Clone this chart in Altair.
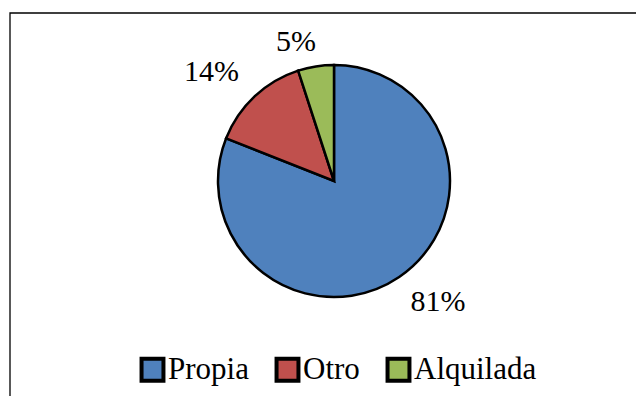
import altair as alt
import pandas as pd

categories = ["Propia", "Otro", "Alquilada"]
values = [81, 14, 5]
labels = ["81%", "14%", "5%"]
colors = ["#4F81BD", "#C0504D", "#9BBB59"]
order_idx = [0, 1, 2]

df = pd.DataFrame({"cat": categories, "val": values, "label": labels, "idx": order_idx})

W, H = 628, 388
CX, CY = 326, 173
R = 116
theta_scale = alt.Scale(domain=[0, 100], range=[0, 6.283185307179586])

border = alt.Chart(pd.DataFrame({"a": [0]})).mark_rect(
    filled=False, stroke="black", strokeWidth=1.3
).encode(x=alt.value(2), x2=alt.value(W + 20), y=alt.value(5), y2=alt.value(H + 20))

base = alt.Chart(df)

arc = base.mark_arc(radius=R, stroke="black", strokeWidth=2.5).encode(
    theta=alt.Theta("val:Q", stack=True, scale=theta_scale),
    color=alt.Color(
        "cat:N",
        scale=alt.Scale(domain=categories, range=colors),
        sort=categories,
        legend=alt.Legend(
            orient="none", legendX=129, legendY=346, direction="horizontal",
            title=None, symbolType="square", symbolSize=480, symbolStrokeWidth=4,
            symbolStrokeColor="black", labelFont="Liberation Serif", labelFontSize=31,
            labelColor="black", columnPadding=19, labelOffset=0, symbolOpacity=1,
            padding=0,
        ),
    ),
    order=alt.Order("idx:Q"),
    x=alt.value(CX),
    y=alt.value(CY),
)

offsets = {"Propia": (14, -11), "Otro": (-13, 8), "Alquilada": (-13, 19)}
texts = []
for cat, (dx, dy) in offsets.items():
    t = base.transform_window(
        cum="sum(val)", sort=[alt.SortField("idx")]
    ).transform_calculate(
        mid="datum.cum - datum.val / 2"
    ).transform_filter(
        alt.datum.cat == cat
    ).mark_text(
        radius=160, font="Liberation Serif", fontSize=30, dx=dx, dy=dy,
        baseline="middle", align="center", color="black"
    ).encode(
        theta=alt.Theta("mid:Q", stack=False, scale=theta_scale),
        text="label:N",
        x=alt.value(CX),
        y=alt.value(CY),
    )
    texts.append(t)

chart = alt.layer(border, arc, *texts).properties(
    width=W, height=H, autosize=alt.AutoSizeParams(type="none"), padding=0,
    background="white",
).configure_view(stroke=None)

chart.save("out.html", embed_options={"renderer": "svg", "actions": False})
